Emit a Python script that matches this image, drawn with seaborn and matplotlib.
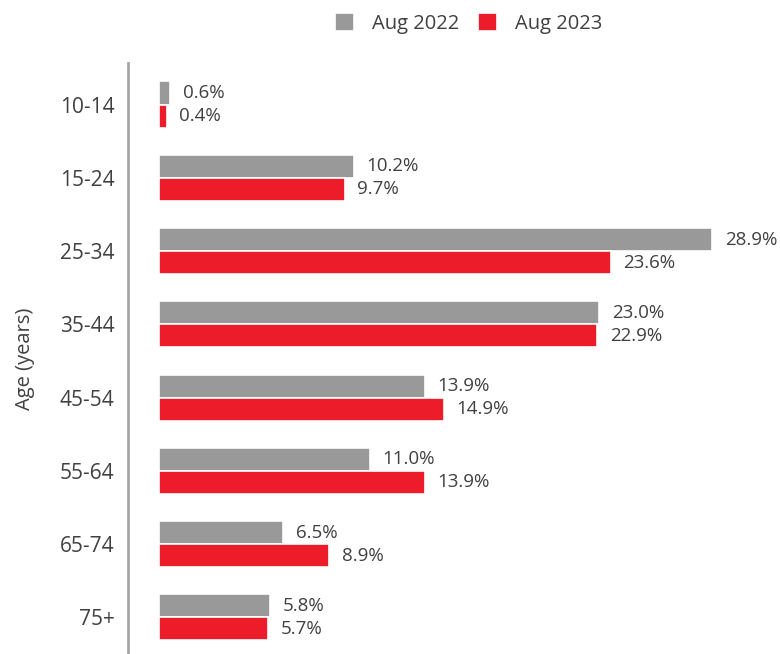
import pandas as pd
import matplotlib.pyplot as plt
import seaborn as sns

age_groups = ["10-14", "15-24", "25-34", "35-44", "45-54", "55-64", "65-74", "75+"]
aug_2022 = [0.6, 10.2, 28.9, 23.0, 13.9, 11.0, 6.5, 5.8]
aug_2023 = [0.4, 9.7, 23.6, 22.9, 14.9, 13.9, 8.9, 5.7]
series = ["Aug 2022", "Aug 2023"]
colors = ["#999999", "#ED1C2A"]

df = pd.DataFrame({
    "age": age_groups * 2,
    "value": aug_2022 + aug_2023,
    "period": [series[0]] * len(age_groups) + [series[1]] * len(age_groups),
})

sns.set_style("white")
plt.rcParams["font.family"] = ["Open Sans", "DejaVu Sans"]
text_col = "#404040"

fig = plt.figure(figsize=(7.8, 6.54), dpi=100)
ax = fig.add_axes([0.164, 0.0, 0.786, 0.904])

sns.barplot(data=df, x="value", y="age", hue="period", order=age_groups,
            hue_order=series, palette=colors, width=0.63, orient="h",
            edgecolor="white", linewidth=1.2, saturation=1, ax=ax)

for container in ax.containers:
    ax.bar_label(container, labels=[f"{v:.1f}%" for v in container.datavalues],
                 padding=9, fontsize=13.5, color=text_col, clip_on=False)

ax.set_xlim(-1.62, 30.4)
ax.set_ylim(7.5, -0.57)
ax.set_xticks([])
ax.set_xlabel("")
ax.set_ylabel("Age (years)", fontsize=14.5, color=text_col, labelpad=18)
ax.tick_params(axis="y", length=0, labelsize=15, labelcolor=text_col, pad=9.5)
for side in ["top", "right", "bottom"]:
    ax.spines[side].set_visible(False)
ax.spines["left"].set_color("#A6A6A6")
ax.spines["left"].set_linewidth(2)

handles, labels = ax.get_legend_handles_labels()
ax.legend(handles, labels, loc="center", bbox_to_anchor=(0.556, 1.066),
          ncol=2, frameon=False, fontsize=14.5, handlelength=0.95,
          handleheight=0.95, handletextpad=0.9, columnspacing=0.9,
          labelcolor=text_col)

fig.savefig("out.png", dpi=100)
